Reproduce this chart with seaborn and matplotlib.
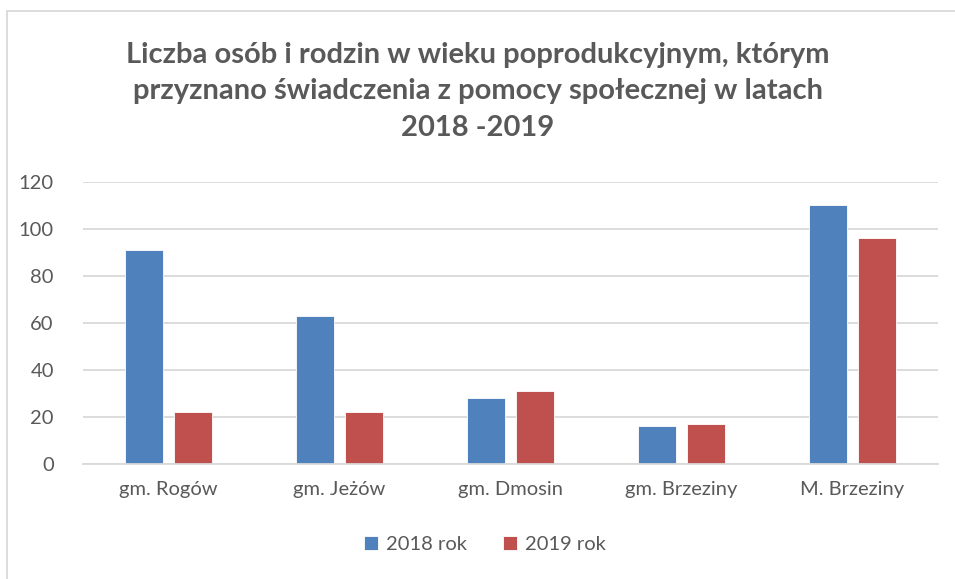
import pandas as pd
import matplotlib.pyplot as plt
import seaborn as sns
from matplotlib.patches import Rectangle

# Dane
gminy = ['gm. Rogów', 'gm. Jeżów', 'gm. Dmosin', 'gm. Brzeziny', 'M. Brzeziny']
rok_2018 = [91, 63, 28, 16, 110]
rok_2019 = [22, 22, 31, 17, 96]
serie = ['2018 rok', '2019 rok']
kolory = ['#4F81BD', '#C0504D']

df = pd.DataFrame({
    'gmina': gminy * 2,
    'wartosc': rok_2018 + rok_2019,
    'rok': [serie[0]] * len(gminy) + [serie[1]] * len(gminy),
})

sns.set_style('white')
plt.rcParams['font.family'] = ['Lato', 'DejaVu Sans']

fig = plt.figure(figsize=(9.55, 5.79), dpi=100)
ax = fig.add_axes([83 / 955, 1 - 464 / 579, (938 - 83) / 955, (464 - 182) / 579])

sns.barplot(data=df, x='gmina', y='wartosc', hue='rok', palette=kolory,
            width=0.573, gap=0.226, edgecolor='white', linewidth=0.6,
            saturation=1, ax=ax, legend=True)

ax.set_ylim(0, 120)
ax.set_yticks(range(0, 121, 20))
ax.set_xlim(-0.5, 4.5)
ax.set_xlabel('')
ax.set_ylabel('')
ax.grid(axis='y', color='#D9D9D9', linewidth=1.3)
ax.set_axisbelow(True)
for s in ['top', 'right', 'left']:
    ax.spines[s].set_visible(False)
ax.spines['bottom'].set_color('#D9D9D9')
ax.spines['bottom'].set_linewidth(1.3)
ax.tick_params(axis='both', length=0, labelsize=14.5, colors='#595959')
ax.tick_params(axis='y', pad=21)
ax.tick_params(axis='x', pad=12)

ax.legend(loc='upper center', bbox_to_anchor=(0.47, -0.19), ncol=2, frameon=False,
          fontsize=14.5, labelcolor='#595959', handlelength=0.7, handleheight=0.7,
          handletextpad=0.4, columnspacing=1.8)

fig.text(0.5, 1 - 91 / 579,
         'Liczba osób i rodzin w wieku poprodukcyjnym, którym\n'
         'przyznano świadczenia z pomocy społecznej w latach\n'
         '2018 -2019',
         ha='center', va='center', fontsize=21, fontweight='bold',
         color='#595959', linespacing=1.5)

# ramka wykresu
fig.add_artist(Rectangle((7 / 955, -0.05), 1.1, 1 - 11 / 579 + 0.05,
                         transform=fig.transFigure, fill=False,
                         edgecolor='#D9D9D9', linewidth=1.3))

fig.savefig('out.png', dpi=100)
